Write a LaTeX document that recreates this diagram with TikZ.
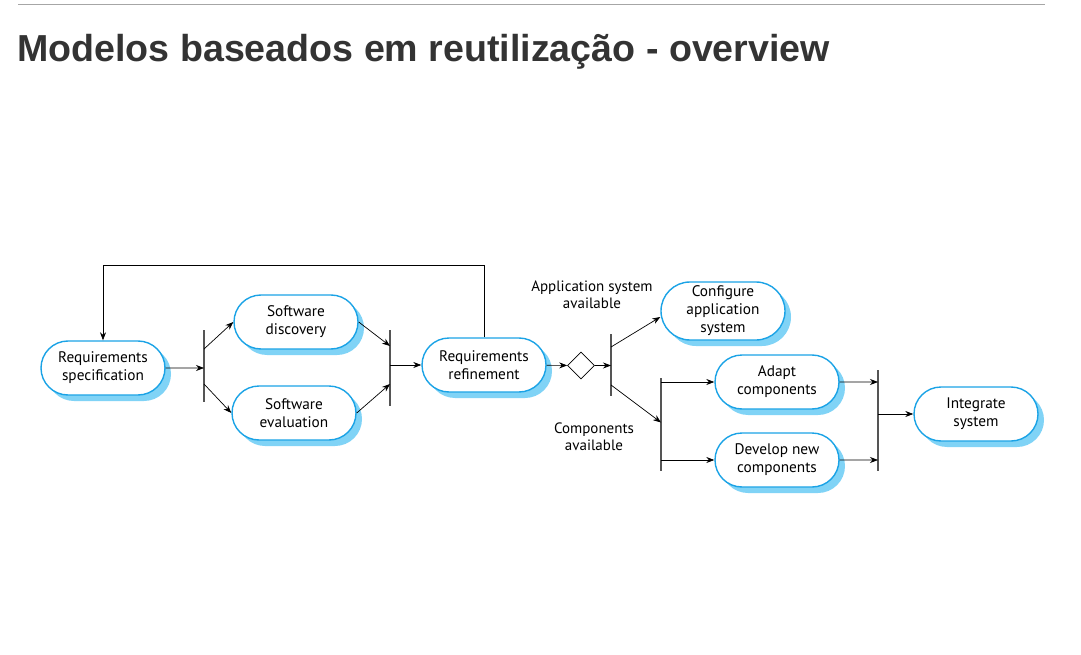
\documentclass[tikz,border=0pt]{standalone}
\usepackage{fontspec}
\setmainfont{PT Sans}
\newfontfamily\titlefont{Liberation Sans}
\usetikzlibrary{shapes.misc, shapes.geometric, shadows, arrows.meta}

\definecolor{procblue}{HTML}{1BA3E6}
\definecolor{shadeblue}{HTML}{80D3F6}
\definecolor{bargray}{HTML}{555555}
\definecolor{titlegray}{HTML}{333333}

\tikzset{
  activity/.style={rounded rectangle, draw=procblue, line width=1.4pt, fill=white,
    minimum width=124pt, minimum height=54pt, inner sep=0pt, align=center,
    font=\fontsize{15.3}{18}\selectfont,
    drop shadow={shadow xshift=6pt, shadow yshift=-6pt, fill=shadeblue, opacity=1}},
  syncbar/.style={fill=bargray, minimum width=1.5pt, inner sep=0pt},
  flow/.style={-{Stealth[length=8pt,width=6pt]}, line width=0.7pt},
  guard/.style={align=center, font=\fontsize{15}{17}\selectfont}
}

\begin{document}
\begin{tikzpicture}[x=1pt, y=-1pt]
  \useasboundingbox (0,0) rectangle (1081,655);

  % heading
  \draw[gray!70, line width=1pt] (18,5) -- (1045,5);
  \node[anchor=base west, inner sep=0pt, text=titlegray,
        font=\titlefont\bfseries\fontsize{37.6}{40}\selectfont] (title) at (17,62)
        {Modelos baseados em reutilização - overview};

  % activities
  \node[activity] (spec) at (103,368) {Requirements\\specification};
  \node[activity] (disc) at (296,322) {Software\\discovery};
  \node[activity] (eval) at (294,413) {Software\\evaluation};
  \node[activity] (refn) at (484,365) {Requirements\\refinement};
  \node[activity, minimum height=58pt] (config) at (723,311) {Configure\\application\\system};
  \node[activity] (adapt) at (777,382) {Adapt\\components};
  \node[activity] (devel) at (777,460) {Develop new\\components};
  \node[activity] (integ) at (976,414) {Integrate\\system};

  % synchronisation bars and choice
  \node[syncbar, minimum height=72pt] (fork1) at (204,366) {};
  \node[syncbar, minimum height=76pt] (join1) at (390,368) {};
  \node[syncbar, minimum height=62pt] (fork2) at (611,365) {};
  \node[syncbar, minimum height=93pt] (fork3) at (661,424.5) {};
  \node[syncbar, minimum height=101pt] (join2) at (878,420.5) {};
  \node[diamond, draw, line width=0.7pt, minimum size=27pt, inner sep=0pt] (choice) at (581,365.5) {};

  % guards
  \node[guard] (appavail) at (592,295) {Application system\\available};
  \node[guard] (compavail) at (594,437) {Components\\available};

  % flows
  \draw[flow] (spec) -- (spec -| fork1);
  \draw[flow] ([yshift=17pt]fork1.center) -- (disc.west);
  \draw[flow] ([yshift=-18pt]fork1.center) -- (eval.west);
  \draw[flow] (disc.east) -- ([yshift=22pt]join1.center);
  \draw[flow] (eval.east) -- ([yshift=-16pt]join1.center);
  \draw[flow] (join1 |- refn) -- (refn);
  \draw[flow] (refn.north) -- ++(0,-72) -| (spec.north);
  \draw[flow] (refn) -- (choice);
  \draw[flow] (choice) -- (choice -| fork2);
  \draw[flow] ([yshift=18pt]fork2.center) -- ([yshift=-6pt]config.west);
  \draw[flow] ([yshift=-20pt]fork2.center) -- ([yshift=2pt]fork3.center);
  \draw[flow] (fork3 |- adapt) -- (adapt);
  \draw[flow] (fork3 |- devel) -- (devel);
  \draw[flow] (adapt) -- (adapt -| join2);
  \draw[flow] (devel) -- (devel -| join2);
  \draw[flow] (join2 |- integ) -- (integ);
\end{tikzpicture}
\end{document}
